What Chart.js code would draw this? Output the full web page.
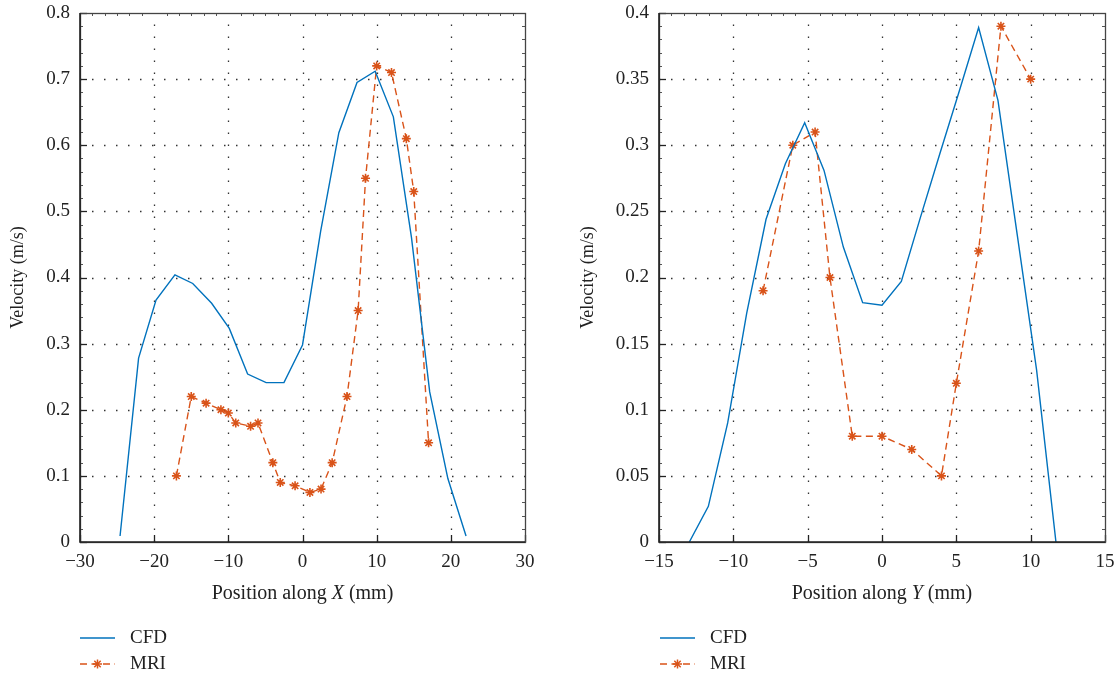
<!DOCTYPE html>
<html>
<head>
<meta charset="utf-8">
<script src="https://cdn.jsdelivr.net/npm/chart.js@4.4.1/dist/chart.umd.min.js"></script>
<style>
  html, body { margin: 0; padding: 0; background: #fff; }
  #wrap { position: relative; width: 1120px; height: 678px; overflow: hidden; font-family: "Liberation Serif", "DejaVu Serif", serif; color: #222; }
  .pane { position: absolute; top: 0; width: 560px; height: 678px; }
  .leg { position: absolute; font-size: 19px; line-height: 20px; color: #222; }
  .leg svg { position: absolute; }
</style>
</head>
<body>
<div id="wrap">
  <div class="pane" style="left:0"><canvas id="c1" width="560" height="678"></canvas></div>
  <div class="pane" style="left:560px"><canvas id="c2" width="560" height="678"></canvas></div>
</div>
<script>
// ---------- data ----------
const seriesNames = ['CFD', 'MRI'];

const leftCfdX = [-24.6, -22.1, -19.75, -17.2, -14.8, -12.25, -9.87, -7.4, -4.9, -2.5, 0, 2.45, 4.9, 7.35, 9.8, 12.25, 14.7, 17.15, 19.6, 22.05];
const leftCfdY = [0.009, 0.278, 0.366, 0.404, 0.391, 0.361, 0.323, 0.254, 0.241, 0.241, 0.298, 0.47, 0.619, 0.695, 0.712, 0.643, 0.46, 0.227, 0.096, 0.009];

const leftMriX = [-17, -15, -13, -11, -10, -9, -7, -6, -4, -3, -1, 1, 2.5, 4, 6, 7.5, 8.5, 10, 12, 14, 15, 17];
const leftMriY = [0.1, 0.22, 0.21, 0.2, 0.195, 0.18, 0.175, 0.18, 0.12, 0.09, 0.085, 0.075, 0.08, 0.12, 0.22, 0.35, 0.55, 0.72, 0.71, 0.61, 0.53, 0.15];

const rightCfdX = [-12.96, -11.68, -10.38, -9.1, -7.8, -6.5, -5.2, -3.9, -2.6, -1.3, 0, 1.3, 2.6, 3.9, 5.2, 6.5, 7.8, 9.1, 10.4, 11.7];
const rightCfdY = [0, 0.027, 0.09, 0.173, 0.244, 0.286, 0.317, 0.281, 0.223, 0.181, 0.179, 0.197, 0.246, 0.294, 0.341, 0.389, 0.334, 0.232, 0.13, 0];

const rightMriX = [-8, -6, -4.5, -3.5, -2, 0, 2, 4, 5, 6.5, 8, 10];
const rightMriY = [0.19, 0.30, 0.31, 0.2, 0.08, 0.08, 0.07, 0.05, 0.12, 0.22, 0.39, 0.35];

const leftXTicks = ['\u221230', '\u221220', '\u221210', '0', '10', '20', '30'];
const leftYTicks = ['0', '0.1', '0.2', '0.3', '0.4', '0.5', '0.6', '0.7', '0.8'];
const rightXTicks = ['\u221215', '\u221210', '\u22125', '0', '5', '10', '15'];
const rightYTicks = ['0', '0.05', '0.1', '0.15', '0.2', '0.25', '0.3', '0.35', '0.4'];

const yTitle = 'Velocity (m/s)';
const leftXTitle = ['Position along ', 'X', ' (mm)'];
const rightXTitle = ['Position along ', 'Y', ' (mm)'];

// ---------- style ----------
const FONT = '"Liberation Serif", "DejaVu Serif", serif';
const BLUE = '#0072BD';
const ORANGE = '#D95319';
const INK = '#222';

function pts(xs, ys) { return xs.map((x, i) => ({ x: x, y: ys[i] })); }

const axesPlugin = {
  id: 'matlabAxes',
  beforeDatasetsDraw(chart) {
    const { ctx, chartArea: a, scales: { x, y } } = chart;
    ctx.save();
    ctx.strokeStyle = '#333';
    ctx.lineWidth = 1.3;
    ctx.setLineDash([1.5, 10.5]);
    x.ticks.forEach(t => {
      if (t.value <= x.min || t.value >= x.max) return;
      const px = Math.round(x.getPixelForValue(t.value)) + 0.5;
      ctx.beginPath(); ctx.moveTo(px, a.bottom); ctx.lineTo(px, a.top); ctx.stroke();
    });
    y.ticks.forEach(t => {
      if (t.value <= y.min || t.value >= y.max) return;
      const py = Math.round(y.getPixelForValue(t.value)) + 0.5;
      ctx.beginPath(); ctx.moveTo(a.left, py); ctx.lineTo(a.right, py); ctx.stroke();
    });
    ctx.restore();
  },
  afterDatasetsDraw(chart, args, opts) {
    const { ctx, chartArea: a, scales: { x, y } } = chart;
    ctx.save();
    ctx.setLineDash([]);
    // minor ticks
    ctx.strokeStyle = '#555';
    ctx.lineWidth = 1;
    const yStep = y.ticks[1].value - y.ticks[0].value;
    for (let i = 0; i < y.ticks.length - 1; i++) {
      for (let k = 1; k < 5; k++) {
        const py = Math.round(y.getPixelForValue(y.ticks[i].value + yStep * k / 5)) + 0.5;
        ctx.beginPath(); ctx.moveTo(a.left, py); ctx.lineTo(a.left + 3, py); ctx.stroke();
        ctx.beginPath(); ctx.moveTo(a.right, py); ctx.lineTo(a.right - 3, py); ctx.stroke();
      }
    }
    const xStep = x.ticks[1].value - x.ticks[0].value;
    for (let i = 0; i < x.ticks.length - 1; i++) {
      for (let k = 1; k < 6; k++) {
        const px = Math.round(x.getPixelForValue(x.ticks[i].value + xStep * k / 6)) + 0.5;
        ctx.beginPath(); ctx.moveTo(px, a.top); ctx.lineTo(px, a.top + 3); ctx.stroke();
      }
    }
    // major ticks (inward, left & bottom)
    ctx.strokeStyle = INK;
    ctx.lineWidth = 1.3;
    y.ticks.forEach(t => {
      const py = Math.round(y.getPixelForValue(t.value)) + 0.5;
      ctx.beginPath(); ctx.moveTo(a.left, py); ctx.lineTo(a.left + 7, py); ctx.stroke();
    });
    x.ticks.forEach(t => {
      const px = Math.round(x.getPixelForValue(t.value)) + 0.5;
      ctx.beginPath(); ctx.moveTo(px, a.bottom); ctx.lineTo(px, a.bottom - 7); ctx.stroke();
    });
    // frame
    ctx.strokeStyle = '#444';
    ctx.lineWidth = 1.3;
    ctx.strokeRect(Math.round(a.left) + 0.5, Math.round(a.top) + 0.5, Math.round(a.right - a.left), Math.round(a.bottom - a.top));
    ctx.strokeStyle = INK;
    ctx.lineWidth = 1.6;
    ctx.beginPath();
    ctx.moveTo(a.left, a.top); ctx.lineTo(a.left, a.bottom); ctx.lineTo(a.right, a.bottom);
    ctx.stroke();
    // x title with italic variable
    const parts = opts.xTitle;
    const fonts = ['20px ' + FONT, 'italic 20px ' + FONT, '20px ' + FONT];
    let widths = parts.map((p, i) => { ctx.font = fonts[i]; return ctx.measureText(p).width; });
    let total = widths.reduce((s, w) => s + w, 0);
    let cx = (a.left + a.right) / 2 - total / 2;
    ctx.fillStyle = INK;
    ctx.textBaseline = 'middle';
    ctx.textAlign = 'left';
    parts.forEach((p, i) => { ctx.font = fonts[i]; ctx.fillText(p, cx, opts.titleY); cx += widths[i]; });
    ctx.restore();
  }
};

function makeChart(id, cfdX, cfdY, mriX, mriY, xMin, xMax, xStep, yMax, yStep, xLabels, yLabels, yAxisWidth, padRight, yTitlePad, xTitle) {
  return new Chart(document.getElementById(id), {
    type: 'line',
    data: {
      datasets: [
        { label: seriesNames[0], data: pts(cfdX, cfdY), borderColor: BLUE, backgroundColor: BLUE, borderWidth: 1.4, pointRadius: 0, tension: 0, fill: false },
        { label: seriesNames[1], data: pts(mriX, mriY), borderColor: ORANGE, backgroundColor: ORANGE, borderWidth: 1.4, borderDash: [7, 4.5],
          pointStyle: 'star', pointRadius: 4.5, pointBorderWidth: 1.6, pointBorderColor: ORANGE, tension: 0, fill: false }
      ]
    },
    options: {
      responsive: false,
      animation: false,
      devicePixelRatio: 1,
      layout: { padding: { left: 0, right: padRight, top: 13, bottom: 76 } },
      plugins: {
        legend: { display: false },
        tooltip: { enabled: false },
        matlabAxes: { xTitle: xTitle, titleY: 594 }
      },
      scales: {
        x: {
          type: 'linear', min: xMin, max: xMax,
          grid: { display: false, drawTicks: false },
          border: { display: false },
          ticks: { stepSize: xStep, padding: 9, color: INK, font: { family: FONT, size: 19 },
                   callback: (v, i) => xLabels[i] !== undefined ? xLabels[i] : String(v) },
          afterFit: s => { s.height = 60; s.paddingLeft = 0; s.paddingRight = 0; }
        },
        y: {
          type: 'linear', min: 0, max: yMax,
          grid: { display: false, drawTicks: false },
          border: { display: false },
          ticks: { stepSize: yStep, padding: 10, color: INK, font: { family: FONT, size: 19 },
                   callback: (v, i) => yLabels[i] !== undefined ? yLabels[i] : String(v) },
          title: { display: true, text: yTitle, color: INK, font: { family: FONT, size: 18 }, padding: { top: yTitlePad, bottom: 0 } },
          afterFit: s => { s.width = yAxisWidth; s.paddingTop = 0; s.paddingBottom = 0; }
        }
      }
    },
    plugins: [axesPlugin]
  });
}

makeChart('c1', leftCfdX, leftCfdY, leftMriX, leftMriY, -30, 30, 10, 0.8, 0.1, leftXTicks, leftYTicks, 80, 35, 7, leftXTitle);
makeChart('c2', rightCfdX, rightCfdY, rightMriX, rightMriY, -15, 15, 5, 0.4, 0.05, rightXTicks, rightYTicks, 99, 15, 17, rightXTitle);

// ---------- legends (HTML) ----------
function addLegend(lineLeft) {
  const wrap = document.getElementById('wrap');
  const rows = [
    { name: seriesNames[0], y: 638, color: BLUE, dash: '' },
    { name: seriesNames[1], y: 664, color: ORANGE, dash: '7 4.5' }
  ];
  rows.forEach((r, idx) => {
    const svgNS = 'http://www.w3.org/2000/svg';
    const svg = document.createElementNS(svgNS, 'svg');
    svg.setAttribute('width', '40'); svg.setAttribute('height', '14');
    svg.style.position = 'absolute';
    svg.style.left = lineLeft + 'px';
    svg.style.top = (r.y - 7) + 'px';
    const ln = document.createElementNS(svgNS, 'line');
    ln.setAttribute('x1', '0'); ln.setAttribute('x2', '35'); ln.setAttribute('y1', '7'); ln.setAttribute('y2', '7');
    ln.setAttribute('stroke', r.color); ln.setAttribute('stroke-width', '1.4');
    if (r.dash) ln.setAttribute('stroke-dasharray', r.dash);
    svg.appendChild(ln);
    if (idx === 1) {
      const cxp = 17.5, cyp = 7, rr = 4.5;
      [[0, 1], [1, 0], [0.707, 0.707], [0.707, -0.707]].forEach(([dx, dy]) => {
        const l = document.createElementNS(svgNS, 'line');
        l.setAttribute('x1', cxp - dx * rr); l.setAttribute('x2', cxp + dx * rr);
        l.setAttribute('y1', cyp - dy * rr); l.setAttribute('y2', cyp + dy * rr);
        l.setAttribute('stroke', r.color); l.setAttribute('stroke-width', '1.5');
        svg.appendChild(l);
      });
    }
    wrap.appendChild(svg);
    const t = document.createElement('div');
    t.className = 'leg';
    t.textContent = r.name;
    t.style.left = (lineLeft + 50) + 'px';
    t.style.top = (r.y - 11) + 'px';
    wrap.appendChild(t);
  });
}
addLegend(80);
addLegend(660);
</script>
</body>
</html>
